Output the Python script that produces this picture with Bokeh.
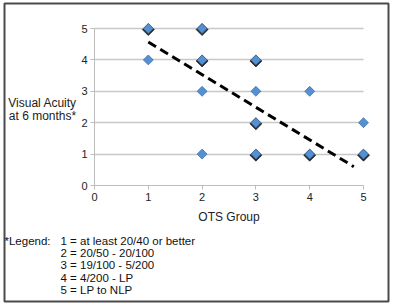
import math
from bokeh.plotting import figure
from bokeh.models import ColumnDataSource, FixedTicker
from bokeh.core.properties import value
from bokeh.transform import dodge
from bokeh.embed import file_html
from bokeh.resources import INLINE

# data
ots_group = [1, 1, 2, 2, 2, 2, 3, 3, 3, 3, 4, 4, 5, 5]
visual_acuity = [5, 4, 5, 4, 3, 1, 4, 3, 2, 1, 3, 1, 2, 1]
n_patients = [2, 1, 2, 2, 1, 1, 2, 1, 2, 2, 1, 2, 1, 2]
trend_x = [1.0, 4.82]
trend_y = [4.57, 0.60]
x_ticks = [0, 1, 2, 3, 4, 5]
y_ticks = [0, 1, 2, 3, 4, 5]
y_label_lines = ["Visual Acuity", "at 6 months*"]
legend_title = "*Legend:"
legend_lines = [
    "1 = at least 20/40 or better",
    "2 = 20/50 - 20/100",
    "3 = 19/100 - 5/200",
    "4 = 4/200 - LP",
    "5 = LP to NLP",
]

FONT = "Liberation Sans"

# pixel geometry of the reference (style only)
X0_PX, PX_PER_X = 94, 53.8
Y0_PX, PX_PER_Y = 185, 31.4
FR_L, FR_R, FR_T, FR_B = 4, 388, 3, 301

def dx(px):
    return (px - X0_PX) / PX_PER_X

def dy(py):
    return (Y0_PX - py) / PX_PER_Y

src_all = ColumnDataSource(dict(x=ots_group, y=visual_acuity, n=n_patients))
multi = [i for i, n in enumerate(n_patients) if n > 1]
src_multi = ColumnDataSource(dict(x=[ots_group[i] for i in multi],
                                  y=[visual_acuity[i] for i in multi]))

p = figure(width=393, height=305, output_backend="svg", toolbar_location=None,
           x_range=(dx(FR_L), dx(FR_R)), y_range=(dy(FR_B), dy(FR_T)),
           min_border_left=FR_L, min_border_right=393 - FR_R,
           min_border_top=FR_T, min_border_bottom=305 - FR_B)
p.outline_line_color = "#4a4a4a"
p.outline_line_width = 2
p.background_fill_color = "white"
p.border_fill_color = "white"

# axes pinned at 0
for ax in (p.xaxis, p.yaxis):
    ax.fixed_location = 0
    ax.bounds = (0, 5)
    ax.axis_line_color = "#bdbdbd"
    ax.axis_line_width = 1
    ax.major_tick_line_color = "#bdbdbd"
    ax.major_tick_in = 0
    ax.major_tick_out = 4
    ax.minor_tick_line_color = None
    ax.major_label_text_font = FONT
    ax.major_label_text_font_size = "11px"
    ax.major_label_text_color = "#222222"
p.xaxis.ticker = FixedTicker(ticks=x_ticks)
p.yaxis.ticker = FixedTicker(ticks=y_ticks)
p.xaxis.major_label_standoff = 3
p.yaxis.major_label_standoff = 3
p.xaxis.axis_label = "OTS Group"
p.xaxis.axis_label_text_font = FONT
p.xaxis.axis_label_text_font_style = "normal"
p.xaxis.axis_label_text_font_size = "12px"
p.xaxis.axis_label_text_color = "#222222"
p.xaxis.axis_label_standoff = 6

p.xgrid.grid_line_color = None
p.ygrid.ticker = FixedTicker(ticks=y_ticks[1:])
p.ygrid.grid_line_color = "#c8c8c8"
p.ygrid.grid_line_width = 1.5
p.ygrid.cross_bounds = (0, 5)

# trend line
p.line(trend_x, trend_y, line_color="black", line_width=3, line_dash="9 5")

# shadows for stacked points
p.scatter(x="x", y=dodge("y", -0.035, range=p.y_range), source=src_multi,
          marker="square", angle=math.pi / 4, size=8.5,
          fill_color="#111111", line_color="#111111", fill_alpha=0.9, line_alpha=0.6)
# points
p.scatter(x="x", y="y", source=src_all, marker="square", angle=math.pi / 4, size=7,
          fill_color="#5591d2", line_color="#3b6fae", line_width=0.8)

# y label
ylab = ColumnDataSource(dict(x=[dx(42)] * len(y_label_lines),
                             y=[dy(102 + i * 13) for i in range(len(y_label_lines))],
                             t=y_label_lines))
p.text(x="x", y="y", text="t", source=ylab, text_align="center", text_baseline="middle",
       text_font=value(FONT), text_font_size=value("12px"), text_color="#222222")

# legend text
leg_x = [dx(4)] + [dx(60)] * len(legend_lines)
leg_y = [dy(240)] + [dy(240 + i * 12.4) for i in range(len(legend_lines))]
leg = ColumnDataSource(dict(x=leg_x, y=leg_y, t=[legend_title] + legend_lines))
p.text(x="x", y="y", text="t", source=leg, text_align="left", text_baseline="middle",
       text_font=value(FONT), text_font_size=value("11.5px"), text_color="#111111")

open("out.html", "w").write(file_html(p, INLINE))
